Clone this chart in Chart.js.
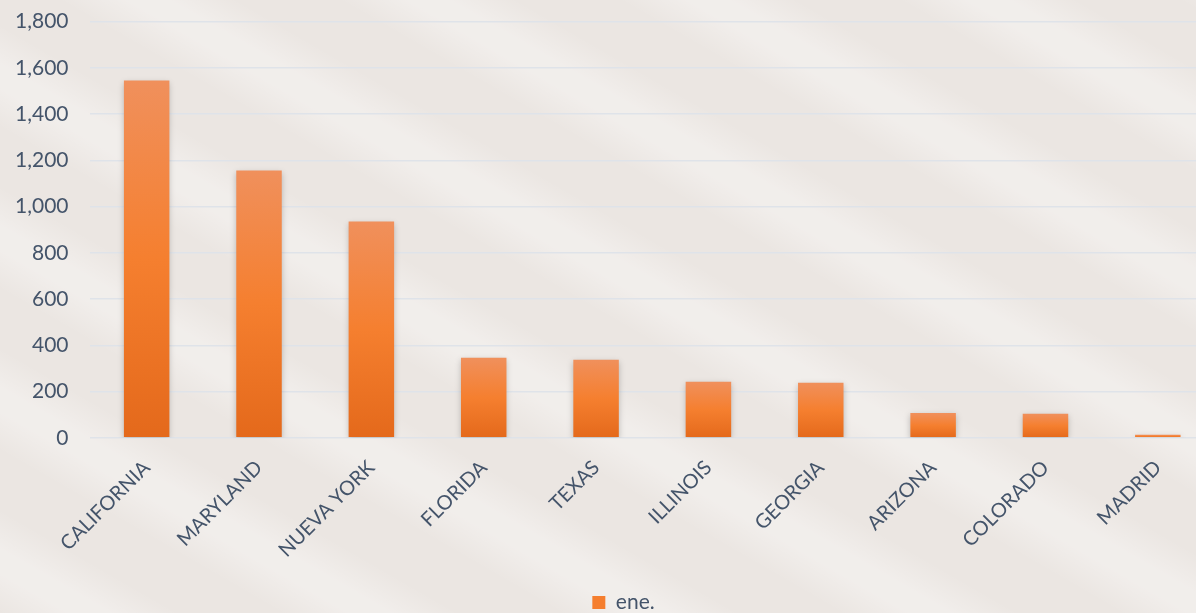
<!DOCTYPE html>
<html lang="es">
<head>
    <meta charset="UTF-8">
    <title>ene.</title>
    <script src="https://cdn.jsdelivr.net/npm/chart.js"></script>
    <style>
        html, body {
            margin: 0;
            padding: 0;
            overflow: hidden;
            width: 1196px;
            height: 613px;
        }
        body {
            background-color: #ebe6e2;
            background-image: repeating-linear-gradient(
                30deg,
                rgba(255, 255, 255, 0) 0px,
                rgba(255, 255, 255, 0.32) 35px,
                rgba(255, 255, 255, 0.32) 55px,
                rgba(255, 255, 255, 0) 90px,
                rgba(255, 255, 255, 0) 140px
            );
        }
        #wrap {
            width: 1234px;
            height: 636px;
            margin-left: -20px;
            margin-top: -13px;
        }
    </style>
</head>
<body>
    <div id="wrap">
        <canvas id="barChart" width="1234" height="636"></canvas>
    </div>

    <script>
        const states = ['CALIFORNIA', 'MARYLAND', 'NUEVA YORK', 'FLORIDA', 'TEXAS',
                        'ILLINOIS', 'GEORGIA', 'ARIZONA', 'COLORADO', 'MADRID'];
        const eneValues = [1545, 1156, 935, 346, 338, 242, 238, 107, 104, 13];
        const seriesName = 'ene.';

        const labelColor = '#44546a';

        function barGradient(context) {
            const chart = context.chart;
            const yScale = chart.scales.y;
            if (!chart.chartArea || !yScale || context.type !== 'data') {
                return '#f57e2e';
            }
            const top = yScale.getPixelForValue(context.raw);
            const bottom = yScale.getPixelForValue(0);
            const g = chart.ctx.createLinearGradient(0, top, 0, bottom);
            g.addColorStop(0, '#f0905c');
            g.addColorStop(0.5, '#f57f2f');
            g.addColorStop(1, '#e4691b');
            return g;
        }

        // soft drop shadow behind the bars
        const shadowPlugin = {
            id: 'barShadow',
            beforeDatasetsDraw(chart) {
                const ctx = chart.ctx;
                ctx.save();
                ctx.shadowColor = 'rgba(0, 0, 0, 0.22)';
                ctx.shadowBlur = 6;
                ctx.shadowOffsetX = 0;
                ctx.shadowOffsetY = 2;
            },
            afterDatasetsDraw(chart) {
                chart.ctx.restore();
            }
        };

        // legend sits a little right of the canvas centre in the original
        const legendShift = {
            id: 'legendShift',
            afterLayout(chart) {
                chart.legend.left += 20;
                chart.legend.right += 20;
            }
        };

        const ctx = document.getElementById('barChart').getContext('2d');
        new Chart(ctx, {
            type: 'bar',
            data: {
                labels: states,
                datasets: [{
                    label: seriesName,
                    data: eneValues,
                    backgroundColor: barGradient,
                    borderWidth: 0,
                    barPercentage: 0.405,
                    categoryPercentage: 1.0
                }]
            },
            plugins: [shadowPlugin, legendShift],
            options: {
                responsive: false,
                animation: false,
                layout: {
                    padding: { top: 8, left: 13, right: 0, bottom: 0 }
                },
                plugins: {
                    tooltip: { enabled: false },
                    legend: {
                        position: 'bottom',
                        labels: {
                            color: labelColor,
                            boxWidth: 13,
                            boxHeight: 13,
                            padding: 4,
                            font: { family: 'Lato', size: 21 },
                            generateLabels() {
                                return [{
                                    text: seriesName,
                                    fillStyle: '#f57e2e',
                                    strokeStyle: '#f57e2e',
                                    lineWidth: 0,
                                    fontColor: labelColor,
                                    datasetIndex: 0
                                }];
                            }
                        }
                    }
                },
                scales: {
                    x: {
                        grid: { display: false },
                        border: { display: false },
                        afterFit(scale) {
                            scale.height += 16;
                        },
                        ticks: {
                            color: labelColor,
                            font: { family: 'Lato', size: 20 },
                            minRotation: 45,
                            maxRotation: 45,
                            padding: 10,
                            autoSkip: false
                        }
                    },
                    y: {
                        min: 0,
                        max: 1800,
                        grid: {
                            color: '#dfe3e9',
                            lineWidth: 1.5,
                            drawTicks: false
                        },
                        border: { display: false },
                        ticks: {
                            stepSize: 200,
                            color: labelColor,
                            padding: 22,
                            font: { family: 'Lato', size: 21 },
                            callback: (v) => v.toLocaleString('en-US')
                        }
                    }
                }
            }
        });
    </script>
</body>
</html>
